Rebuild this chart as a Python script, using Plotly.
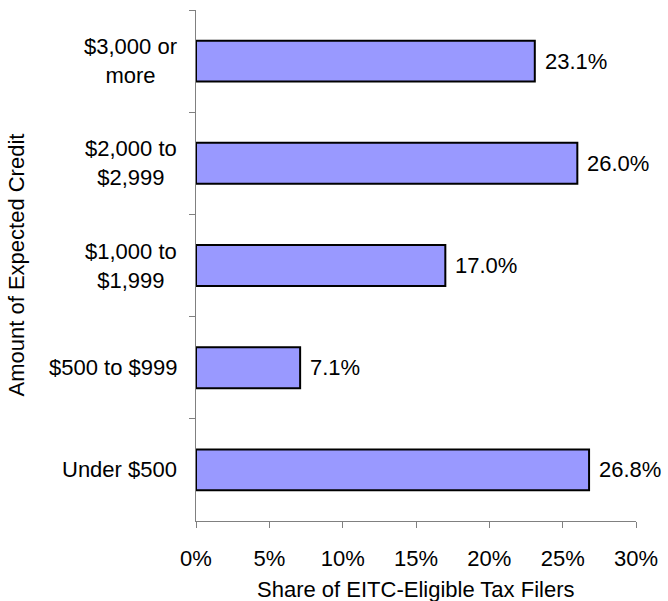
import plotly.graph_objects as go

categories = ["$3,000 or<br>more", "$2,000 to<br>$2,999", "$1,000 to<br>$1,999", "$500 to $999", "Under $500"]
shares = [23.1, 26.0, 17.0, 7.1, 26.8]
value_labels = ["23.1%", "26.0%", "17.0%", "7.1%", "26.8%"]
x_ticks = [0, 5, 10, 15, 20, 25, 30]
x_tick_labels = ["0%", "5%", "10%", "15%", "20%", "25%", "30%"]
x_title = "Share of EITC-Eligible Tax Filers"
y_title = "Amount of Expected Credit"

FONT = "Arial, Liberation Sans, sans-serif"
AX = "#808080"
TXT = dict(family=FONT, size=22, color="black")

fig = go.Figure(go.Bar(
    x=shares, y=categories, orientation="h",
    marker=dict(color="#9999FF", line=dict(color="black", width=2)),
    hoverinfo="skip",
))

annotations = []
for cat, val, lab in zip(categories, shares, value_labels):
    annotations.append(dict(x=val, y=cat, xref="x", yref="y", text=lab, showarrow=False,
                            xanchor="left", xshift=8, font=TXT))
    annotations.append(dict(x=0, y=cat, xref="paper", yref="y", text=cat, showarrow=False,
                            xanchor="right", align="center", xshift=-17, font=TXT))

annotations.append(dict(x=0.5, y=0, xref="paper", yref="paper", text=x_title, showarrow=False,
                        xanchor="center", yanchor="top", yshift=-54, font=TXT))
annotations.append(dict(x=0, y=0.5, xref="paper", yref="paper", text=y_title, showarrow=False,
                        textangle=-90, xanchor="center", yanchor="middle", xshift=-180, font=TXT))

fig.update_layout(
    width=668, height=601,
    margin=dict(l=196, r=30, t=10, b=80),
    paper_bgcolor="white", plot_bgcolor="white",
    bargap=0.6, showlegend=False,
    font=TXT,
    annotations=annotations,
    xaxis=dict(range=[0, 30], tickvals=x_ticks, ticktext=x_tick_labels,
               ticks="outside", ticklen=6, tickcolor=AX, showline=True, linecolor=AX, linewidth=1,
               showgrid=False, zeroline=False, ticklabelstandoff=12,
               tickfont=TXT),
    yaxis=dict(type="category", categoryorder="array", categoryarray=categories,
               range=[4.5, -0.5], tickson="boundaries", ticks="outside", ticklen=6, tickcolor=AX,
               showline=True, linecolor=AX, linewidth=1, showgrid=False, zeroline=False,
               showticklabels=False),
)

fig.write_html("out.html")
